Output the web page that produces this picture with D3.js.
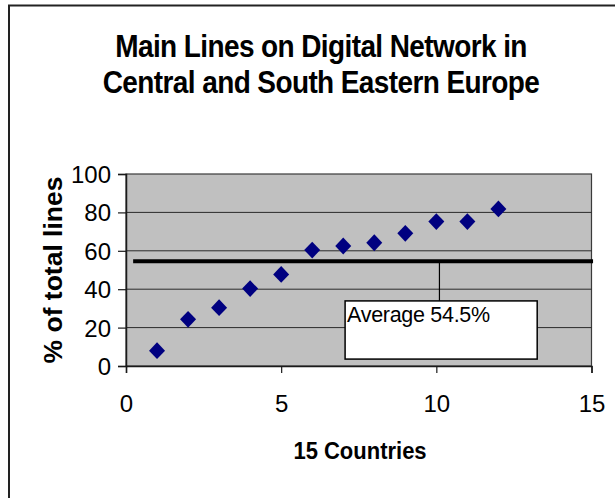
<!DOCTYPE html>
<html>
<head>
<meta charset="utf-8">
<script src="https://cdn.jsdelivr.net/npm/d3@7"></script>
<style>
  html, body { margin: 0; padding: 0; background: #fff; }
  svg { display: block; font-family: Arial, "Liberation Sans", sans-serif; }
</style>
</head>
<body>
<svg id="chart" width="615" height="498"></svg>
<script>
// Share of main lines on the digital network, per country (ranked)
const countries = [1, 2, 3, 4, 5, 6, 7, 8, 9, 10, 11, 12];
const digitalShare = [8, 24.3, 30.4, 40.3, 47.7, 60.4, 62.5, 64.2, 69.1, 75.2, 75.2, 81.8];
const averageShare = 54.5;
const xTicks = [0, 5, 10, 15];
const yTicks = [0, 20, 40, 60, 80, 100];
const titleLines = ["Main Lines on Digital Network in", "Central and South Eastern Europe"];
const xTitle = "15 Countries";
const yTitle = "% of total lines";
const calloutText = "Average " + averageShare + "%";
// average rule span and callout anchor, in data units
const avgLineSpan = [0.23, 15.05];
const calloutAnchorX = 10.1;
const calloutBox = { x0: 7.06, x1: 13.25, y0: 3.6, y1: 33.9 };

const svg = d3.select("#chart");

// chart frame
svg.append("rect")
  .attr("x", 9).attr("y", 5.5)
  .attr("width", 640).attr("height", 520)
  .attr("fill", "#fff").attr("stroke", "#222").attr("stroke-width", 2);

const x = d3.scaleLinear().domain([0, 15]).range([126, 591.5]);
const y = d3.scaleLinear().domain([0, 100]).range([366, 174]);

// plot area
svg.append("rect")
  .attr("x", x(0)).attr("y", y(100))
  .attr("width", x(15) - x(0)).attr("height", y(0) - y(100))
  .attr("fill", "#c0c0c0").attr("stroke", "#3a3a3a").attr("stroke-width", 1.2);

// horizontal gridlines
svg.append("g").selectAll("line")
  .data(yTicks.filter(v => v > 0 && v < 100))
  .join("line")
  .attr("x1", x(0)).attr("x2", x(15))
  .attr("y1", d => y(d)).attr("y2", d => y(d))
  .attr("stroke", "#2a2a2a").attr("stroke-width", 1);

// axes
const yAxis = svg.append("g")
  .attr("transform", `translate(${x(0)},0)`)
  .call(d3.axisLeft(y).tickValues(yTicks).tickSize(8).tickPadding(7));
const xAxis = svg.append("g")
  .attr("transform", `translate(0,${y(0)})`)
  .call(d3.axisBottom(x).tickValues(xTicks).tickSize(7).tickPadding(9));

[yAxis, xAxis].forEach(g => {
  g.select(".domain").attr("stroke", "#1a1a1a").attr("stroke-width", 1.5);
  g.selectAll(".tick line").attr("stroke", "#1a1a1a").attr("stroke-width", 1.2);
  g.selectAll(".tick text")
    .attr("fill", "#000")
    .style("font-family", "Arial, 'Liberation Sans', sans-serif")
    .style("font-size", "24px");
});
yAxis.selectAll(".tick text").attr("x", -15).attr("dy", "0.35em");
xAxis.selectAll(".tick text").attr("y", 46).attr("dy", 0);

// diamond markers
const diamond = {
  draw(ctx, size) {
    const r = Math.sqrt(size / 2);
    ctx.moveTo(0, -r * 1.05);
    ctx.lineTo(r, 0);
    ctx.lineTo(0, r * 1.05);
    ctx.lineTo(-r, 0);
    ctx.closePath();
  }
};
svg.append("g").selectAll("path")
  .data(countries.map((c, i) => ({ c, v: digitalShare[i] })))
  .join("path")
  .attr("transform", d => `translate(${x(d.c)},${y(d.v)})`)
  .attr("d", d3.symbol(diamond, 128))
  .attr("fill", "#000080");

// average rule
svg.append("line")
  .attr("x1", x(avgLineSpan[0])).attr("x2", x(avgLineSpan[1]))
  .attr("y1", y(averageShare)).attr("y2", y(averageShare))
  .attr("stroke", "#000").attr("stroke-width", 4);

// callout leader and box
svg.append("line")
  .attr("x1", x(calloutAnchorX)).attr("x2", x(calloutAnchorX))
  .attr("y1", y(averageShare)).attr("y2", y(calloutBox.y1))
  .attr("stroke", "#000").attr("stroke-width", 1.2);
svg.append("rect")
  .attr("x", x(calloutBox.x0)).attr("y", y(calloutBox.y1))
  .attr("width", x(calloutBox.x1) - x(calloutBox.x0))
  .attr("height", y(calloutBox.y0) - y(calloutBox.y1))
  .attr("fill", "#fff").attr("stroke", "#000").attr("stroke-width", 1.5);
svg.append("text")
  .attr("x", x(calloutBox.x0) + 2).attr("y", y(calloutBox.y1) + 21)
  .style("font-size", "21.5px")
  .style("letter-spacing", "-0.3px")
  .text(calloutText);

// title (slightly tall, condensed lettering)
svg.append("g").selectAll("text")
  .data(titleLines)
  .join("text")
  .attr("transform", (d, i) => `translate(321,${57 + i * 36}) scale(1,1.14)`)
  .attr("text-anchor", "middle")
  .style("font-size", "28px").style("font-weight", "bold")
  .style("letter-spacing", "-0.6px")
  .text(d => d);

// axis titles
svg.append("text")
  .attr("transform", "translate(360,459) scale(1,1.12)")
  .attr("text-anchor", "middle")
  .style("font-size", "22px").style("font-weight", "bold")
  .text(xTitle);
svg.append("text")
  .attr("transform", "translate(62,270) rotate(-90) scale(1.06,1)")
  .attr("text-anchor", "middle")
  .style("font-size", "25px").style("font-weight", "bold")
  .text(yTitle);
</script>
</body>
</html>
